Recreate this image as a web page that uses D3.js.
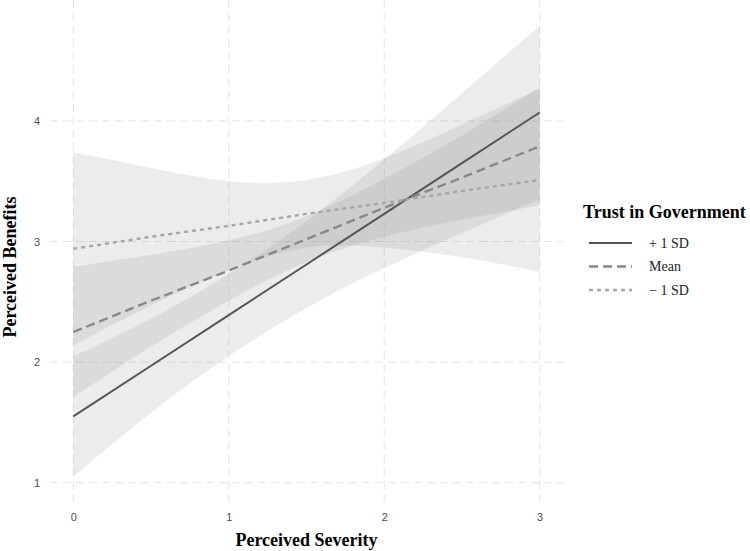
<!DOCTYPE html>
<html>
<head>
<meta charset="utf-8">
<script src="https://cdn.jsdelivr.net/npm/d3@7"></script>
<style>
  body { margin: 0; background: #fff; }
  svg { display: block; }
</style>
</head>
<body>
<svg id="drawing_region"></svg>
<script>
const severity = [0, 0.5, 1, 1.5, 2, 2.5, 3];

// fitted lines
const plusSD  = [1.55, 1.97, 2.39, 2.81, 3.23, 3.65, 4.07];
const meanSD  = [2.25, 2.51, 2.76, 3.02, 3.28, 3.53, 3.79];
const minusSD = [2.94, 3.04, 3.13, 3.23, 3.32, 3.42, 3.51];

// confidence bands
const plusLow   = [1.05, 1.58, 2.05, 2.45, 2.78, 3.07, 3.35];
const plusHigh  = [2.05, 2.36, 2.73, 3.17, 3.68, 4.23, 4.79];
const meanLow   = [1.71, 2.13, 2.51, 2.83, 3.04, 3.18, 3.30];
const meanHigh  = [2.79, 2.89, 3.01, 3.21, 3.52, 3.88, 4.28];
const minusLow  = [2.14, 2.47, 2.76, 2.95, 2.95, 2.87, 2.75];
const minusHigh = [3.74, 3.61, 3.50, 3.51, 3.69, 3.97, 4.27];

const legendLabels = ["+ 1 SD", "Mean", "\u2212 1 SD"];
const xTicks = [0, 1, 2, 3];
const yTicks = [1, 2, 3, 4];

const config = {
    width: 750,
    height: 551,
    panel: {left: 50, right: 563, top: 0, bottom: 503}
};

const series = [
    {label: legendLabels[0], line: plusSD,  low: plusLow,  high: plusHigh,  color: '#555555', dash: null,  width: 2},
    {label: legendLabels[1], line: meanSD,  low: meanLow,  high: meanHigh,  color: '#888888', dash: '9,5', width: 2.4},
    {label: legendLabels[2], line: minusSD, low: minusLow, high: minusHigh, color: '#a6a6a6', dash: '4,4', width: 2.4}
];

const svg = d3.select('#drawing_region')
    .attr('width', config.width)
    .attr('height', config.height);

const p = config.panel;

const xscale = d3.scaleLinear()
    .domain([-0.15, 3.15])
    .range([p.left, p.right]);

const yscale = d3.scaleLinear()
    .domain([0.832, 5.003])
    .range([p.bottom, p.top]);

svg.append('clipPath').attr('id', 'clip')
    .append('rect')
    .attr('x', p.left).attr('y', p.top)
    .attr('width', p.right - p.left).attr('height', p.bottom - p.top);

// grid
const grid = svg.append('g')
    .attr('stroke', '#e3e3e3')
    .attr('stroke-width', 1)
    .attr('stroke-dasharray', '8,5');

grid.selectAll('.vgrid')
    .data(xTicks)
    .enter()
    .append('line')
    .attr('x1', d => xscale(d)).attr('x2', d => xscale(d))
    .attr('y1', p.top).attr('y2', p.bottom);

grid.selectAll('.hgrid')
    .data(yTicks)
    .enter()
    .append('line')
    .attr('y1', d => yscale(d)).attr('y2', d => yscale(d))
    .attr('x1', p.left).attr('x2', p.right);

// bands
const plot = svg.append('g').attr('clip-path', 'url(#clip)');

const area = d3.area()
    .x((d, i) => xscale(severity[i]))
    .y0(d => yscale(d[0]))
    .y1(d => yscale(d[1]))
    .curve(d3.curveNatural);

plot.selectAll('.band')
    .data(series)
    .enter()
    .append('path')
    .attr('d', s => area(s.low.map((v, i) => [v, s.high[i]])))
    .attr('fill', '#808080')
    .attr('fill-opacity', 0.15);

const line = d3.line()
    .x((d, i) => xscale(severity[i]))
    .y(d => yscale(d));

plot.selectAll('.fit')
    .data(series)
    .enter()
    .append('path')
    .attr('d', s => line(s.line))
    .attr('fill', 'none')
    .attr('stroke', s => s.color)
    .attr('stroke-width', s => s.width)
    .attr('stroke-dasharray', s => s.dash);

// axes
const xaxis = d3.axisBottom(xscale)
    .tickValues(xTicks)
    .tickFormat(d3.format('d'))
    .tickSize(0)
    .tickPadding(10);

const xaxis_group = svg.append('g')
    .attr('transform', `translate(0, ${p.bottom})`)
    .call(xaxis);

const yaxis = d3.axisLeft(yscale)
    .tickValues(yTicks)
    .tickFormat(d3.format('d'))
    .tickSize(0)
    .tickPadding(10);

const yaxis_group = svg.append('g')
    .attr('transform', `translate(${p.left}, 0)`)
    .call(yaxis);

[xaxis_group, yaxis_group].forEach(g => {
    g.select('.domain').remove();
    g.selectAll('text')
        .style('font-family', '"Liberation Sans", Arial, sans-serif')
        .style('font-size', '11px')
        .attr('fill', '#4d4d4d');
});

// axis titles
svg.append('text')
    .attr('x', (p.left + p.right) / 2)
    .attr('y', 546)
    .attr('text-anchor', 'middle')
    .style('font-family', '"Liberation Serif", "Times New Roman", serif')
    .style('font-size', '18px')
    .style('font-weight', 'bold')
    .text('Perceived Severity');

svg.append('text')
    .attr('transform', 'rotate(-90)')
    .attr('x', -267)
    .attr('y', 16)
    .attr('text-anchor', 'middle')
    .style('font-family', '"Liberation Serif", "Times New Roman", serif')
    .style('font-size', '18px')
    .style('font-weight', 'bold')
    .text('Perceived Benefits');

// legend
const legend = svg.append('g')
    .attr('transform', 'translate(583, 0)');

legend.append('text')
    .attr('x', 0)
    .attr('y', 218)
    .style('font-family', '"Liberation Serif", "Times New Roman", serif')
    .style('font-size', '18px')
    .style('font-weight', 'bold')
    .text('Trust in Government');

const rows = legend.selectAll('.row')
    .data(series)
    .enter()
    .append('g')
    .attr('transform', (d, i) => `translate(0, ${243 + i * 23.5})`);

rows.append('line')
    .attr('x1', 6).attr('x2', 49)
    .attr('y1', 0).attr('y2', 0)
    .attr('stroke', s => s.color)
    .attr('stroke-width', s => s.width)
    .attr('stroke-dasharray', s => s.dash);

rows.append('text')
    .attr('x', 66)
    .attr('y', 0)
    .attr('dy', '0.35em')
    .style('font-family', '"Liberation Serif", "Times New Roman", serif')
    .style('font-size', '14px')
    .attr('fill', '#222')
    .text(s => s.label);
</script>
</body>
</html>
